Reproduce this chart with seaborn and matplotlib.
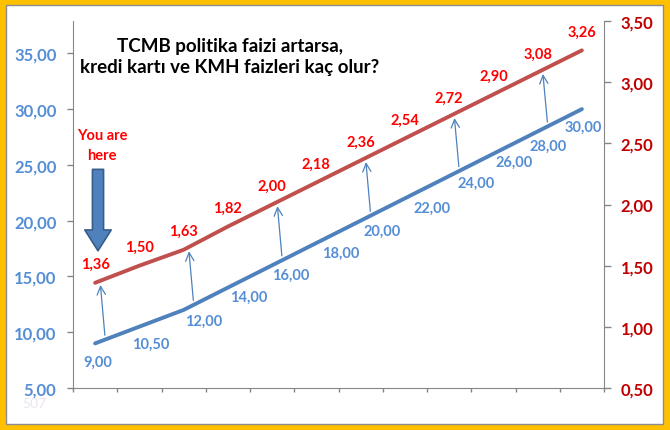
import numpy as np
import pandas as pd
import matplotlib
matplotlib.use("Agg")
import matplotlib.pyplot as plt
from matplotlib.patches import Rectangle
from matplotlib.ticker import FuncFormatter
import seaborn as sns

# values
adim = list(range(12))
politika_faizi = [9.00, 10.50, 12.00, 14.00, 16.00, 18.00, 20.00, 22.00, 24.00, 26.00, 28.00, 30.00]
kart_faizi = [1.36, 1.50, 1.63, 1.82, 2.00, 2.18, 2.36, 2.54, 2.72, 2.90, 3.08, 3.26]
sol_ticks = [5, 10, 15, 20, 25, 30, 35]
sag_ticks = [0.5, 1.0, 1.5, 2.0, 2.5, 3.0, 3.5]
baslik = "TCMB politika faizi artarsa,\nkredi kartı ve KMH faizleri kaç olur?"

# label offsets (pixels) for the blue labels, they sit below/right of the line
mavi_offset = [(3, -18), (11, -17), (20, -11), (21, -9), (19, -10), (24, -10),
               (22, -10), (27, -9), (27, -7), (21, -8), (10, -14), (1, -18)]

sns.set_style("white")
plt.rcParams['font.family'] = ['Lato', 'DejaVu Sans']

df = pd.DataFrame({'adim': adim, 'politika': politika_faizi, 'kart': kart_faizi})

MAVI = '#4F81BD'
KIRMIZI = '#C0504D'
GRI = '#868686'

fig = plt.figure(figsize=(6.7, 4.31), dpi=100)
fig.patch.set_facecolor('#FFC000')
fig.patches.append(Rectangle((6 / 670, 6 / 431), 657 / 670, 419 / 431, transform=fig.transFigure,
                             facecolor='white', edgecolor='#8C8C8C', lw=1, zorder=-1))

ax = fig.add_axes([73 / 670, 42 / 431, 531 / 670, 367 / 431])
ax.patch.set_visible(False)
ax2 = ax.twinx()

sns.lineplot(data=df, x='adim', y='politika', ax=ax, color=MAVI, lw=2.8)
sns.lineplot(data=df, x='adim', y='kart', ax=ax2, color=KIRMIZI, lw=2.8)

ax.set_xlim(-0.5, 11.5)
ax.set_ylim(5, 37.9)
ax2.set_ylim(0.5, 3.5)
ax.set_xticks(np.arange(-0.5, 12, 1))
ax.set_xticklabels([])
ax.set_yticks(sol_ticks)
ax2.set_yticks(sag_ticks)
virgul = FuncFormatter(lambda v, p: f"{v:.2f}".replace('.', ','))
ax.yaxis.set_major_formatter(virgul)
ax2.yaxis.set_major_formatter(virgul)
for a in (ax, ax2):
    a.set_xlabel('')
    a.set_ylabel('')
    a.spines['top'].set_visible(False)
    for s in a.spines.values():
        s.set_color(GRI)
ax.spines['right'].set_visible(False)
ax2.spines['left'].set_visible(False)
ax2.spines['bottom'].set_visible(False)

ax.tick_params(axis='y', left=True, direction='out', length=4, width=1, color=GRI,
               labelcolor='#558ED5', labelsize=12, pad=8)
ax.tick_params(axis='x', bottom=True, direction='out', length=3, width=1, color=GRI)
ax2.tick_params(axis='y', right=True, direction='out', length=5, width=1, color=GRI,
                labelcolor='#C00000', labelsize=12, pad=7)
for lbl in ax.get_yticklabels() + ax2.get_yticklabels():
    lbl.set_fontweight('bold')

# data labels
for x, v, off in zip(adim, politika_faizi, mavi_offset):
    ax.annotate(f"{v:.2f}".replace('.', ','), (x, v), xytext=off, textcoords='offset pixels',
                ha='center', va='center', color='#558ED5', fontsize=10.5, fontweight='bold')
for x, v in zip(adim, kart_faizi):
    ax2.annotate(f"{v:.2f}".replace('.', ','), (x, v), xytext=(0, 19), textcoords='offset pixels',
                 ha='center', va='center', color='#FF0000', fontsize=10.5, fontweight='bold')

# thin arrows from the blue line up to the red line
for i in range(0, 12, 2):
    x0, x1 = i + 0.22, i + 0.12
    y0 = np.interp(x0, adim, politika_faizi) + 0.4
    y1 = np.interp(x1, adim, kart_faizi) - 0.035
    ax2.annotate('', xy=(x1, y1), xycoords=ax2.transData,
                 xytext=(x0, y0), textcoords=ax.transData,
                 arrowprops=dict(arrowstyle='->,head_length=0.6,head_width=0.3', color=MAVI,
                                 lw=0.9, shrinkA=0, shrinkB=0))

# "You are here" marker
ax2.annotate('', xy=(0.065, 17.3), xycoords=ax.transData,
             xytext=(0.065, 24.6), textcoords=ax.transData,
             arrowprops=dict(arrowstyle='simple,head_length=1.5,head_width=1.9,tail_width=0.8',
                             mutation_scale=10, fc=MAVI, ec='#385D8A', lw=1.2,
                             shrinkA=0, shrinkB=0))
ax.text(0.155, 26.8, "You are\nhere", ha='center', va='center', color='#FF0000',
        fontsize=10.5, fontweight='bold', linespacing=1.5)

fig.text(230 / 670, 1 - 57 / 431, baslik, ha='center', va='center', fontsize=13.5,
         fontweight='bold', color='black', linespacing=1.3)
fig.text(34 / 670, 1 - 404 / 431, '507', ha='center', va='center', fontsize=10, color='#ECE4EF')

fig.savefig('out.png', dpi=100, facecolor=fig.get_facecolor())
